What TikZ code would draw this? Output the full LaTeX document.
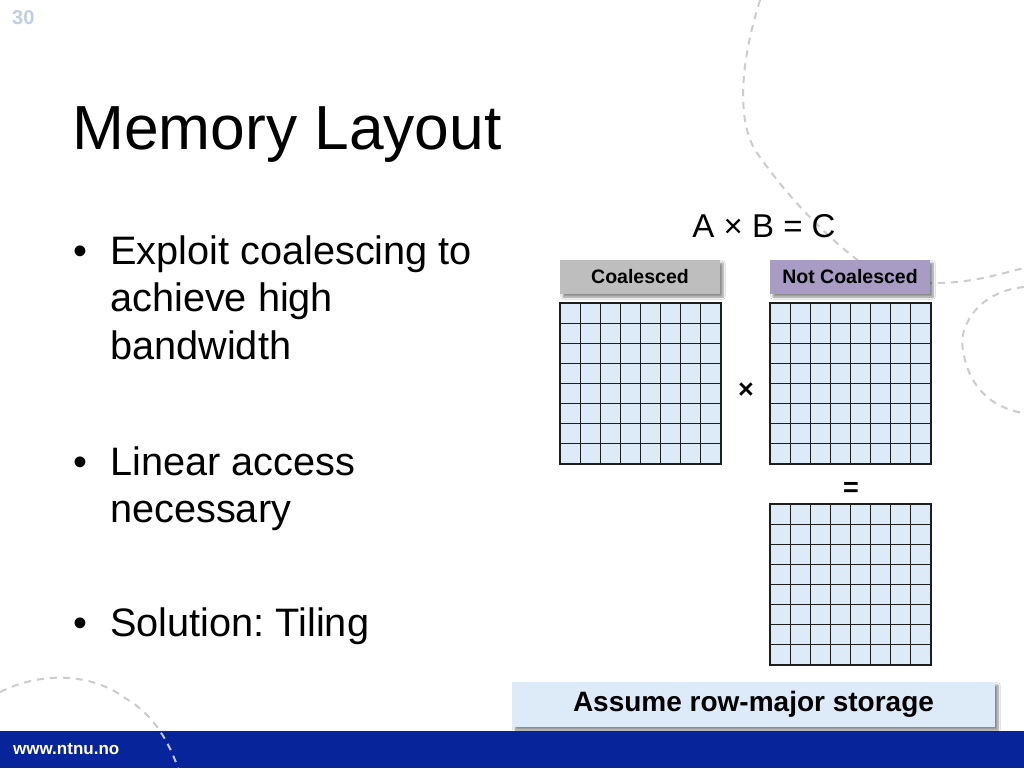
\documentclass[tikz,border=0pt]{standalone}
\usepackage{fontspec}
\setmainfont{Liberation Sans}
\usetikzlibrary{calc,shadows.blur}
\definecolor{band}{RGB}{8,36,154}
\definecolor{cellblue}{RGB}{221,235,248}
\definecolor{lblgray}{RGB}{190,190,190}
\definecolor{lblpurple}{RGB}{168,155,196}
\definecolor{notebox}{RGB}{221,235,248}
\definecolor{deco}{RGB}{204,204,204}
\definecolor{pagenum}{RGB}{192,206,222}
\definecolor{gridline}{RGB}{30,30,30}
\frenchspacing
\begin{document}
\begin{tikzpicture}[x=1pt,y=-1pt,
  decoline/.style={draw=deco,line width=2pt,dash pattern=on 7pt off 6pt},
  matbox/.style={draw=gridline,line width=1.3pt,fill=cellblue,minimum width=161pt,minimum height=161pt,inner sep=0pt,outer sep=0pt},
  gline/.style={draw=gridline,line width=1.2pt},
  lblbox/.style={minimum width=160pt,minimum height=34pt,inner sep=0pt,outer sep=0pt,
    font=\bfseries\fontsize{19.5}{22}\selectfont,
    blur shadow={shadow xshift=3pt,shadow yshift=-3pt,shadow blur steps=6,shadow opacity=45}},
  bullettext/.style={anchor=base west,inner sep=0pt,font=\fontsize{39.7}{46}\selectfont},
  bulletdot/.style={anchor=base,inner sep=0pt,font=\fontsize{39.7}{46}\selectfont},
  opsign/.style={inner sep=0pt,font=\bfseries\fontsize{27}{30}\selectfont}]
\useasboundingbox (0,0) rectangle (1024,768);
\fill[white] (0,0) rectangle (1024,768);
% decorative dashed curves
\draw[decoline] (760,0) .. controls (738,70) and (738,125) .. (757,153) .. controls (790,200) and (825,235) .. (860,262) .. controls (890,280) and (910,284) .. (940,283) .. controls (975,282) and (1000,274) .. (1024,268);
\draw[decoline] (1024,287) .. controls (975,292) and (958,330) .. (963,350) .. controls (968,385) and (990,408) .. (1024,413);
\draw[decoline] (0,692) .. controls (40,672) and (90,672) .. (125,698) .. controls (155,715) and (170,745) .. (178,768);
% footer band
\fill[band] (0,731) rectangle (1024,768);
\begin{scope}
\clip (0,731) rectangle (1024,768);
\draw[decoline,draw=white,opacity=0.75] (0,692) .. controls (40,672) and (90,672) .. (125,698) .. controls (155,715) and (170,745) .. (178,768);
\end{scope}
\node[anchor=base west,inner sep=0pt,text=white,font=\bfseries\fontsize{17}{20}\selectfont] (url) at (13,754) {www.ntnu.no};
% page number
\node[anchor=base west,inner sep=0pt,text=pagenum,font=\bfseries\fontsize{20}{24}\selectfont] (pnum) at (12,25) {30};
% title
\node[anchor=base west,inner sep=0pt,font=\fontsize{62.3}{70}\selectfont] (title) at (72,149) {Memory Layout};
% bullets
\node[bulletdot] (b1) at (80,264) {•};
\node[bullettext] (t1a) at (110,264) {Exploit coalescing to};
\node[bullettext] (t1b) at (110,311) {achieve high};
\node[bullettext] (t1c) at (110,359) {bandwidth};
\node[bulletdot] (b2) at (80,475) {•};
\node[bullettext] (t2a) at (110,475) {Linear access};
\node[bullettext] (t2b) at (110,522) {necessary};
\node[bulletdot] (b3) at (80,636) {•};
\node[bullettext] (t3a) at (110,636) {Solution: Tiling};
% equation
\node[anchor=base,inner sep=0pt,font=\fontsize{33}{38}\selectfont] (eq) at (764,237) {A × B = C};
% labels
\node[lblbox,fill=lblgray] (lA) at (640,277) {Coalesced};
\node[lblbox,fill=lblpurple] (lB) at (850,277) {Not Coalesced};
% matrices
\node[matbox] (gA) at (640.5,383.5) {};
\node[matbox] (gB) at (850.5,383.5) {};
\node[matbox] (gC) at (850.5,584.5) {};
\foreach \g in {gA,gB,gC}{
  \foreach \i in {1,...,7}{
    \draw[gline] ($(\g.north west)+(\i*20.125,0)$) -- ($(\g.south west)+(\i*20.125,0)$);
    \draw[gline] ($(\g.north west)+(0,\i*20.125)$) -- ($(\g.north east)+(0,\i*20.125)$);
  }
  \draw[draw=gridline,line width=1.3pt] (\g.north west) rectangle (\g.south east);
}
\node[opsign] (times) at (746,391) {×};
\node[opsign] (equals) at (851,489) {=};
% note box
\node[fill=notebox,minimum width=483pt,minimum height=45pt,inner sep=0pt,
  font=\bfseries\fontsize{28}{32}\selectfont,
  blur shadow={shadow xshift=3pt,shadow yshift=-3pt,shadow blur steps=6,shadow opacity=45}] (note) at (753.5,704.5) {Assume row-major storage};
\end{tikzpicture}
\end{document}
